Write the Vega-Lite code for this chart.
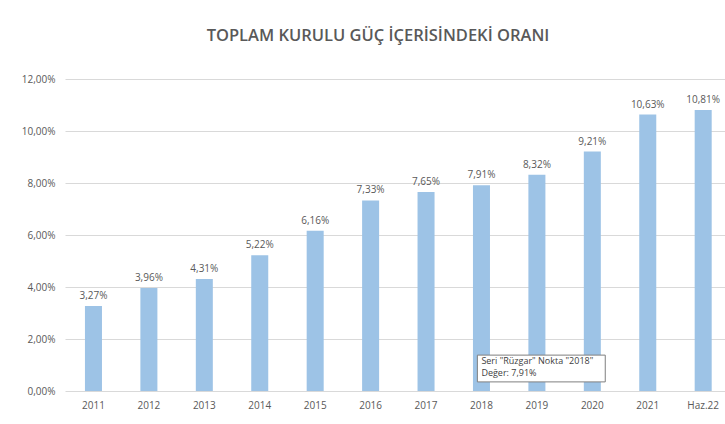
{
  "$schema": "https://vega.github.io/schema/vega-lite/v6.json",
  "width": 660,
  "height": 312,
  "autosize": {"type": "none"},
  "padding": {"left": 65, "top": 79, "right": 0, "bottom": 33},
  "background": "white",
  "config": {
    "locale": {"number": {"decimal": ",", "thousands": ".", "grouping": [3], "currency": ["", " TL"]}},
    "view": {"stroke": null},
    "font": "Open Sans"
  },
  "title": {
    "text": "TOPLAM KURULU GÜÇ İÇERİSİNDEKİ ORANI",
    "font": "Open Sans",
    "fontSize": 16.5,
    "fontWeight": 600,
    "color": "#595959",
    "anchor": "middle",
    "dx": -17,
    "offset": 30
  },
  "datasets": {
    "bars": [
      {"yil": "2011", "oran": 0.0327},
      {"yil": "2012", "oran": 0.0396},
      {"yil": "2013", "oran": 0.0431},
      {"yil": "2014", "oran": 0.0522},
      {"yil": "2015", "oran": 0.0616},
      {"yil": "2016", "oran": 0.0733},
      {"yil": "2017", "oran": 0.0765},
      {"yil": "2018", "oran": 0.0791},
      {"yil": "2019", "oran": 0.0832},
      {"yil": "2020", "oran": 0.0921},
      {"yil": "2021", "oran": 0.1063},
      {"yil": "Haz.22", "oran": 0.1081}
    ],
    "tip": [
      {"a": "2018", "b": "2020", "lo": 0.0035, "hi": 0.0138, "t": ["Seri \"Rüzgar\" Nokta \"2018\"", "Değer: 7,91%"]}
    ]
  },
  "layer": [
    {
      "data": {"name": "bars"},
      "mark": {"type": "bar", "color": "#9DC3E6"},
      "encoding": {
        "x": {
          "field": "yil", "type": "nominal", "sort": null,
          "scale": {"paddingInner": 0.693, "paddingOuter": 0.3, "align": 0.6},
          "axis": {"title": null, "labelAngle": 0, "domain": false, "ticks": false, "labelColor": "#595959", "labelFontSize": 10, "labelPadding": 9}
        },
        "y": {
          "field": "oran", "type": "quantitative",
          "scale": {"domain": [0, 0.12]},
          "axis": {"title": null, "format": ".2%", "values": [0, 0.02, 0.04, 0.06, 0.08, 0.1, 0.12], "labelOverlap": false, "domain": false, "ticks": false, "labelColor": "#595959", "labelFontSize": 10, "labelPadding": 10, "gridColor": "#D9D9D9", "gridWidth": 1}
        }
      }
    },
    {
      "data": {"name": "bars"},
      "mark": {"type": "text", "baseline": "bottom", "dy": -5, "fontSize": 10, "color": "#595959"},
      "encoding": {
        "x": {"field": "yil", "type": "nominal", "sort": null},
        "y": {"field": "oran", "type": "quantitative"},
        "text": {"field": "oran", "type": "quantitative", "format": ".2%"}
      }
    },
    {
      "data": {"name": "tip"},
      "mark": {"type": "rect", "fill": "white", "stroke": "#7F7F7F", "strokeWidth": 1},
      "encoding": {
        "x": {"field": "a", "type": "nominal", "sort": null, "bandPosition": 0.26},
        "x2": {"field": "b", "bandPosition": 1.26},
        "y": {"field": "hi", "type": "quantitative"},
        "y2": {"field": "lo"}
      }
    },
    {
      "data": {"name": "tip"},
      "mark": {"type": "text", "align": "left", "baseline": "top", "fontSize": 9, "color": "#404040", "dx": 4, "dy": 2, "lineHeight": 12},
      "encoding": {
        "x": {"field": "a", "type": "nominal", "sort": null, "bandPosition": 0.26},
        "y": {"field": "hi", "type": "quantitative"},
        "text": {"field": "t"}
      }
    }
  ]
}
